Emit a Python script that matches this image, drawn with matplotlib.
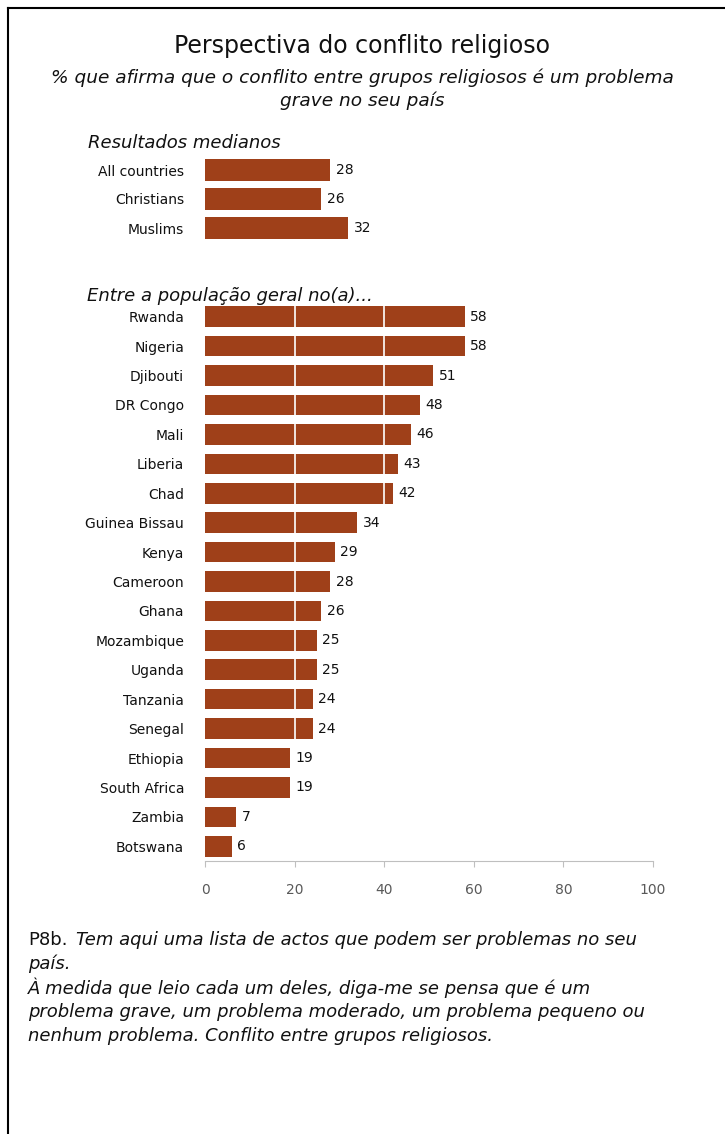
import matplotlib.pyplot as plt
from matplotlib.lines import Line2D

# median results
median_groups = ['All countries', 'Christians', 'Muslims']
median_values = [28, 26, 32]

# general population by country
countries = ['Rwanda', 'Nigeria', 'Djibouti', 'DR Congo', 'Mali', 'Liberia', 'Chad',
             'Guinea Bissau', 'Kenya', 'Cameroon', 'Ghana', 'Mozambique', 'Uganda',
             'Tanzania', 'Senegal', 'Ethiopia', 'South Africa', 'Zambia', 'Botswana']
country_values = [58, 58, 51, 48, 46, 43, 42, 34, 29, 28, 26, 25, 25, 24, 24, 19, 19, 7, 6]
x_ticks = [0, 20, 40, 60, 80, 100]

bar_color = '#9F4019'
plt.rcParams['font.family'] = ['DejaVu Sans']

fig = plt.figure(figsize=(7.25, 11.34), dpi=100)
W, H = 725, 1134

def fx(px):
    return px / W

def fy(py):
    return 1 - py / H

# frame lines (left and top)
fig.add_artist(Line2D([fx(8), fx(8)], [fy(8), 0], color='black', lw=1.5))
fig.add_artist(Line2D([fx(8), 1], [fy(8), fy(8)], color='black', lw=1.5))

fig.text(0.5, fy(46), 'Perspectiva do conflito religioso', ha='center', va='center',
         fontsize=17, fontweight='medium', color='#111111')
fig.text(0.5, fy(78), '% que afirma que o conflito entre grupos religiosos é um problema',
         ha='center', va='center', fontsize=13.3, style='italic', color='#111111')
fig.text(0.5, fy(101), 'grave no seu país', ha='center', va='center', fontsize=13.3,
         style='italic', color='#111111')

fig.text(fx(88), fy(143), 'Resultados medianos', ha='left', va='center', fontsize=13,
         style='italic', color='#111111')
fig.text(fx(87), fy(296), 'Entre a população geral no(a)...', ha='left', va='center',
         fontsize=13, style='italic', color='#111111')

x0, x1 = 205, 653

# top axes: medians
ax1 = fig.add_axes([fx(x0), fy(242.5), fx(x1 - x0), 87 / H])
y1 = list(range(len(median_groups)))
ax1.barh(y1, median_values, height=0.75, color=bar_color)
for y, v in zip(y1, median_values):
    ax1.text(v + 1.2, y, str(v), va='center', ha='left', fontsize=10, color='#111111')
ax1.set_xlim(0, 100)
ax1.set_ylim(len(median_groups) - 0.5, -0.5)
ax1.set_yticks(y1)
ax1.set_yticklabels(median_groups, fontsize=10, color='#111111')
ax1.set_xticks([])
ax1.tick_params(axis='y', length=0, pad=15)
for s in ax1.spines.values():
    s.set_visible(False)

# bottom axes: countries
ax2 = fig.add_axes([fx(x0), fy(861), fx(x1 - x0), (861 - 302) / H])
y2 = list(range(len(countries)))
ax2.barh(y2, country_values, height=0.7, color=bar_color, zorder=2)
for gx in [20, 40, 60, 80]:
    ax2.axvline(gx, color='white', lw=1.2, zorder=3)
for y, v in zip(y2, country_values):
    ax2.text(v + 1.2, y, str(v), va='center', ha='left', fontsize=10, color='#111111')
ax2.set_xlim(0, 100)
ax2.set_ylim(len(countries) - 0.5, -0.5)
ax2.set_yticks(y2)
ax2.set_yticklabels(countries, fontsize=10, color='#111111')
ax2.tick_params(axis='y', length=0, pad=15)
ax2.set_xticks(x_ticks)
ax2.set_xticklabels([str(t) for t in x_ticks], fontsize=10, color='#595959')
ax2.tick_params(axis='x', length=4, color='#BFBFBF', pad=12)
for s in ['top', 'right', 'left']:
    ax2.spines[s].set_visible(False)
ax2.spines['bottom'].set_color('#BFBFBF')

# footnote
note_size = 13
lead = fig.text(fx(28), fy(940), 'P8b.', ha='left', va='center', fontsize=note_size,
                color='#111111')
renderer = fig.canvas.get_renderer()
lead_end = lead.get_window_extent(renderer).x1
fig.text((lead_end + 8) / W, fy(940),
         'Tem aqui uma lista de actos que podem ser problemas no seu',
         ha='left', va='center', fontsize=note_size, style='italic', color='#111111')
notes = ['país.',
         'À medida que leio cada um deles, diga-me se pensa que é um',
         'problema grave, um problema moderado, um problema pequeno ou',
         'nenhum problema. Conflito entre grupos religiosos.']
for i, line in enumerate(notes):
    fig.text(fx(28), fy(964 + 24 * i), line, ha='left', va='center', fontsize=note_size,
             style='italic', color='#111111')

fig.savefig('out.png', dpi=100)
